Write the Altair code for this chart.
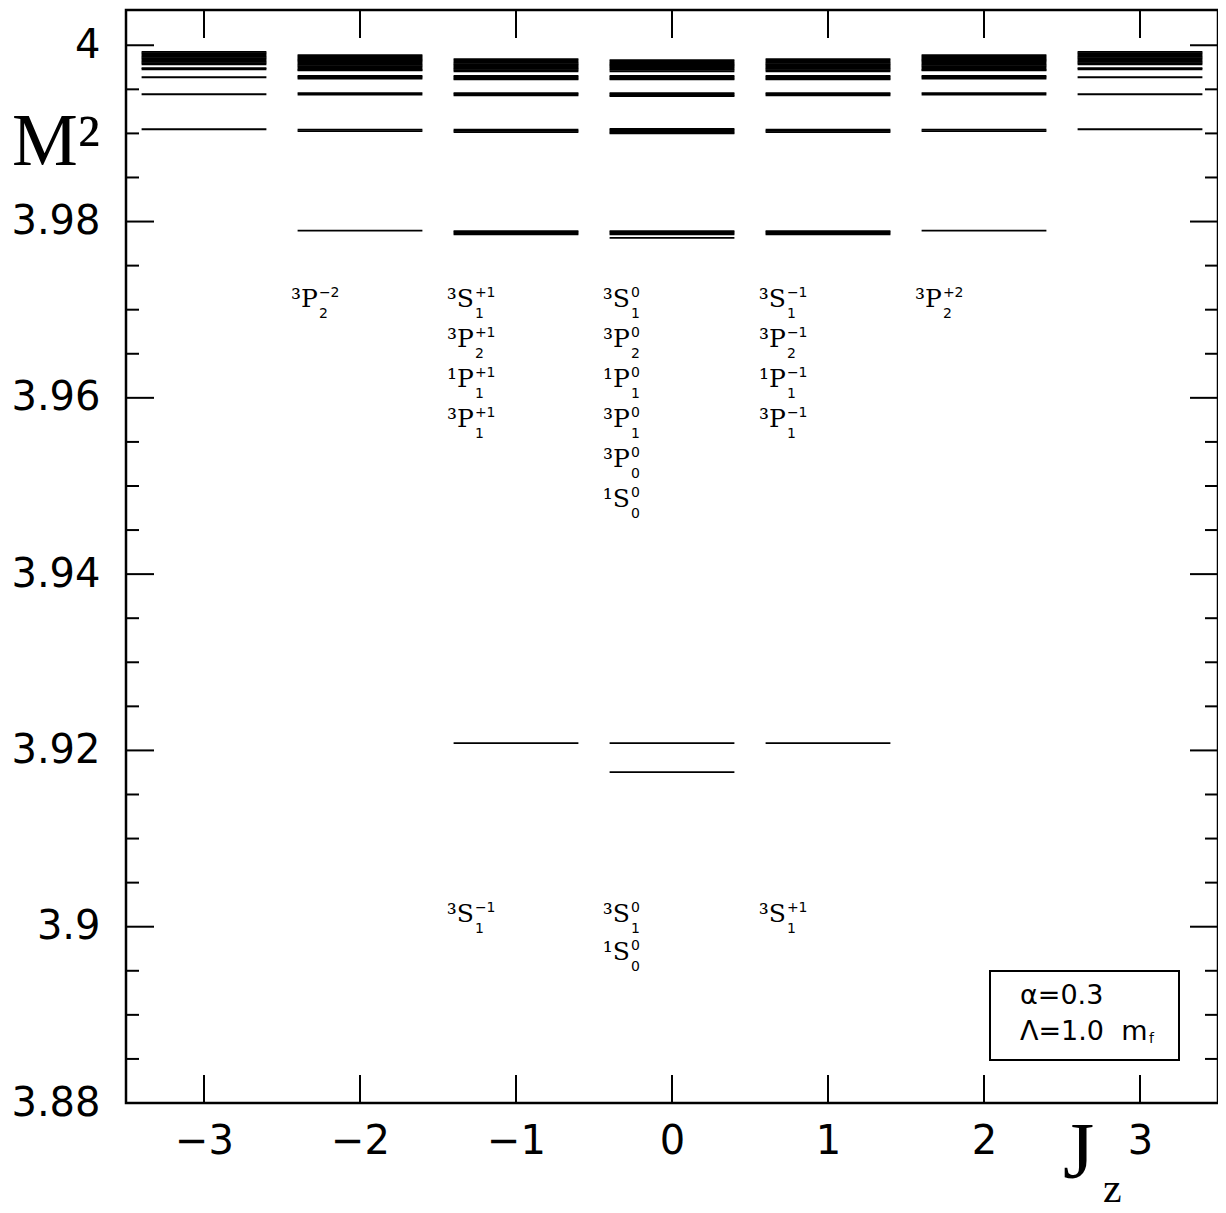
import altair as alt
import pandas as pd

# ---------------- data ----------------
JZ_TICKS = [-3, -2, -1, 0, 1, 2, 3]
Y_MAJOR = [3.88, 3.90, 3.92, 3.94, 3.96, 3.98, 4.00]
Y_MINOR = [3.885, 3.89, 3.895, 3.905, 3.91, 3.915, 3.925, 3.93, 3.935,
           3.945, 3.95, 3.955, 3.965, 3.97, 3.975, 3.985, 3.99, 3.995]

# bound-state / continuum levels (M^2) for each |Jz|
levels_jz3 = [3.99924, 3.99910, 3.99896, 3.99882, 3.99868, 3.99854, 3.99840,
              3.99826, 3.99812, 3.99798, 3.99784,
              3.99740, 3.99728,
              3.99637,
              3.99444,
              3.99047]
levels_jz2 = [3.99889, 3.99875, 3.99861, 3.99847, 3.99833, 3.99819, 3.99805,
              3.99791, 3.99777, 3.99763, 3.99749, 3.99735, 3.99721, 3.99714,
              3.99651, 3.99637, 3.99623,
              3.99458, 3.99439,
              3.99042, 3.99026,
              3.97896]
levels_jz1 = [3.99843, 3.99829, 3.99815, 3.99801, 3.99787, 3.99773, 3.99759,
              3.99745, 3.99731, 3.99717, 3.99703,
              3.99651, 3.99637, 3.99623, 3.99612,
              3.99458, 3.99444, 3.99431,
              3.99042, 3.99028, 3.99014,
              3.97892, 3.97879, 3.97865, 3.97854,
              3.92083]
levels_jz0 = [3.99832, 3.99818, 3.99804, 3.99790, 3.99776, 3.99762, 3.99748,
              3.99734, 3.99720, 3.99703,
              3.99651, 3.99637, 3.99623, 3.99612,
              3.99458, 3.99444, 3.99431, 3.99422,
              3.99050, 3.99036, 3.99022, 3.99009, 3.99000,
              3.97892, 3.97879, 3.97865, 3.97854,
              3.97815,
              3.92083, 3.91754]

# state labels
label_jz = [-2, -1, -1, -1, -1, 0, 0, 0, 0, 0, 0, 1, 1, 1, 1, 2, -1, 0, 0, 1]
label_main = ["³P", "³S", "³P", "¹P", "³P", "³S", "³P", "¹P", "³P", "³P", "¹S",
              "³S", "³P", "¹P", "³P", "³P", "³S", "³S", "¹S", "³S"]
label_sub = ["2", "1", "2", "1", "1", "1", "2", "1", "1", "0", "0",
             "1", "2", "1", "1", "2", "1", "1", "0", "1"]
label_sup = ["−2", "+1", "+1", "+1", "+1", "0", "0", "0", "0", "0", "0",
             "−1", "−1", "−1", "−1", "+2", "−1", "0", "0", "+1"]
label_m2 = [3.97130, 3.97130, 3.96677, 3.96223, 3.95769,
            3.97130, 3.96677, 3.96223, 3.95769, 3.95316, 3.94862,
            3.97130, 3.96677, 3.96223, 3.95769,
            3.97130,
            3.90155, 3.90155, 3.89724, 3.90155]

legend_lines = ["α=0.3", "Λ=1.0\u00a0 m"]
legend_sub = ["f"]
y_title = ["M²"]
x_title = ["J"]
x_title_sub = ["z"]

# ---------------- tables ----------------
rows = []
for jz, lv in [(-3, levels_jz3), (3, levels_jz3), (-2, levels_jz2), (2, levels_jz2),
               (-1, levels_jz1), (1, levels_jz1), (0, levels_jz0)]:
    for m in lv:
        rows.append({"jz": jz, "m2": m})
df_levels = pd.DataFrame(rows)
df_labels = pd.DataFrame({"jz": label_jz, "main": label_main, "sub": label_sub,
                          "sup": label_sup, "m2": label_m2})

W, H = 1092, 1093
xs = alt.Scale(domain=[-3.5, 3.5], nice=False, zero=False)
ys = alt.Scale(domain=[3.88, 4.004], nice=False, zero=False)

x_axis = alt.Axis(values=JZ_TICKS, ticks=False, domain=False, grid=False,
                  labelFontSize=40, labelFont="DejaVu Sans", labelColor="black",
                  labelPadding=18, labelFlush=False, title=None)
y_axis = alt.Axis(values=Y_MAJOR, ticks=False, domain=False, grid=False,
                  labelFontSize=40, labelFont="DejaVu Sans", labelColor="black",
                  labelPadding=26, labelFlush=False, title=None,
                  labelExpr="format(datum.value, '.3~f')")

def X(field):
    return alt.X(field, scale=xs, axis=x_axis)

def Y(field):
    return alt.Y(field, scale=ys, axis=y_axis)

levels = alt.Chart(df_levels).transform_calculate(
    lo="datum.jz - 0.4", hi="datum.jz + 0.4"
).mark_rule(color="black", strokeWidth=1.8).encode(
    x=X("lo:Q"), x2="hi:Q", y=Y("m2:Q"),
)

df_ymaj = pd.DataFrame({"v": Y_MAJOR})
df_ymin = pd.DataFrame({"v": Y_MINOR})
df_xt = pd.DataFrame({"v": JZ_TICKS})

def yticks(df, x0, x1):
    return alt.Chart(df).mark_rule(color="black", strokeWidth=2).encode(
        y=Y("v:Q"), x=alt.value(x0), x2=alt.value(x1))

def xticks(y0, y1):
    return alt.Chart(df_xt).mark_rule(color="black", strokeWidth=2).encode(
        x=X("v:Q"), y=alt.value(y0), y2=alt.value(y1))

ticks = [yticks(df_ymaj, 0, 28), yticks(df_ymaj, W - 28, W),
         yticks(df_ymin, 0, 13), yticks(df_ymin, W - 13, W),
         xticks(H - 28, H), xticks(0, 28)]

lab_base = alt.Chart(df_labels).transform_calculate(lx="datum.jz - 0.27")
lab_main = lab_base.mark_text(align="right", baseline="alphabetic", dy=9,
                              font="DejaVu Serif", fontSize=25, color="black").encode(
    x=X("lx:Q"), y=Y("m2:Q"), text="main:N")
lab_sup = lab_base.mark_text(align="left", baseline="alphabetic", dx=1, dy=-1,
                             font="DejaVu Sans", fontSize=14, color="black").encode(
    x=X("lx:Q"), y=Y("m2:Q"), text="sup:N")
lab_sub = lab_base.mark_text(align="left", baseline="alphabetic", dx=1, dy=20,
                             font="DejaVu Sans", fontSize=14, color="black").encode(
    x=X("lx:Q"), y=Y("m2:Q"), text="sub:N")

one = pd.DataFrame({"k": [0]})
legend_box = alt.Chart(one).mark_rect(fill="white", stroke="black", strokeWidth=2).encode(
    x=alt.value(864), x2=alt.value(1053), y=alt.value(961), y2=alt.value(1050))

def txt(strings, x, y, size, font, align="left"):
    return alt.Chart(pd.DataFrame({"t": strings})).mark_text(
        align=align, baseline="alphabetic", fontSize=size, font=font, color="black"
    ).encode(x=alt.value(x), y=alt.value(y), text="t:N")

leg1 = txt([legend_lines[0]], 894, 994, 27, "DejaVu Sans")
leg2 = txt([legend_lines[1]], 894, 1030, 27, "DejaVu Sans")
leg3 = txt(legend_sub, 1023, 1033, 14, "DejaVu Sans")
ytit = txt(y_title, -114, 155, 74, "Liberation Serif")
xtit = txt(x_title, 937, 1168, 80, "Liberation Serif")
xtit_sub = txt(x_title_sub, 977, 1192, 42, "Liberation Serif")

chart = alt.layer(
    levels, *ticks, lab_main, lab_sup, lab_sub, legend_box, leg1, leg2, leg3,
    ytit, xtit, xtit_sub
).properties(
    width=W, height=H,
    autosize=alt.AutoSizeParams(type="none"),
    padding={"left": 118, "top": 2, "right": 0, "bottom": 108},
).configure_view(stroke="black", strokeWidth=2.5)

chart.save("out.html", embed_options={"renderer": "svg", "actions": False})
